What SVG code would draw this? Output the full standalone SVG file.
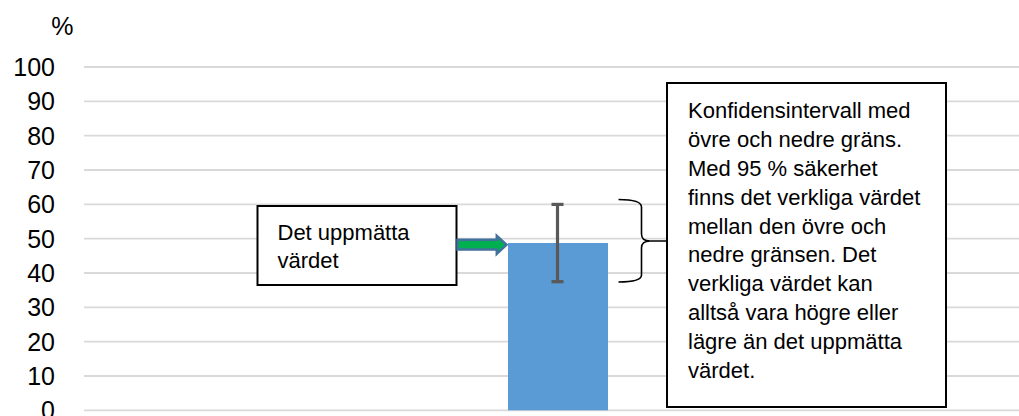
<svg xmlns="http://www.w3.org/2000/svg" width="1019" height="416" viewBox="0 0 1019 416">
<style>
.grid{stroke:#D9D9D9;stroke-width:1.8;fill:none}
.ax{font-family:"Liberation Sans",Arial,sans-serif;font-size:25px;fill:#000;text-anchor:end}
.txt{font-family:"Liberation Sans",Arial,sans-serif;font-size:22px;fill:#000}
.box{fill:#fff;stroke:#000;stroke-width:2}
</style>
<rect x="0" y="0" width="1019" height="416" fill="#fff"/>
<g id="gridlines">
<line class="grid" x1="84" y1="410.3" x2="1019" y2="410.3"/>
<line class="grid" x1="84" y1="376" x2="1019" y2="376"/>
<line class="grid" x1="84" y1="341.6" x2="1019" y2="341.6"/>
<line class="grid" x1="84" y1="307.3" x2="1019" y2="307.3"/>
<line class="grid" x1="84" y1="273" x2="1019" y2="273"/>
<line class="grid" x1="84" y1="238.6" x2="1019" y2="238.6"/>
<line class="grid" x1="84" y1="204.3" x2="1019" y2="204.3"/>
<line class="grid" x1="84" y1="170" x2="1019" y2="170"/>
<line class="grid" x1="84" y1="135.6" x2="1019" y2="135.6"/>
<line class="grid" x1="84" y1="101.3" x2="1019" y2="101.3"/>
<line class="grid" x1="84" y1="67" x2="1019" y2="67"/>
</g>
<g id="axis-labels">
<text x="73.5" y="34.5" class="ax" font-size="24.5">%</text>
<text x="55" y="76" class="ax">100</text>
<text x="55" y="110.3" class="ax">90</text>
<text x="55" y="144.6" class="ax">80</text>
<text x="55" y="179" class="ax">70</text>
<text x="55" y="213.3" class="ax">60</text>
<text x="55" y="247.6" class="ax">50</text>
<text x="55" y="282" class="ax">40</text>
<text x="55" y="316.3" class="ax">30</text>
<text x="55" y="350.6" class="ax">20</text>
<text x="55" y="385" class="ax">10</text>
<text x="55" y="419.3" class="ax">0</text>
</g>
<g id="bar">
<rect x="508" y="243" width="100" height="167.3" fill="#5B9BD5"/>
</g>
<g id="error-bar" stroke="#595959" stroke-width="3.2" fill="none">
<line x1="557.5" y1="204.4" x2="557.5" y2="281.7"/>
<line x1="551.5" y1="204.4" x2="563.5" y2="204.4"/>
<line x1="551.5" y1="281.7" x2="563.5" y2="281.7"/>
</g>
<g id="measured-box">
<rect class="box" x="257.5" y="206" width="199" height="79"/>
<text class="txt" x="277.5" y="240">Det uppmätta</text>
<text class="txt" x="277.5" y="268">värdet</text>
</g>
<g id="connectors">
<path d="M457.5,239.8 L496.8,239.8 L496.8,235.8 L506.5,244.8 L496.8,253.8 L496.8,249.6 L457.5,249.6 Z" fill="#00B050" stroke="#41719C" stroke-width="2.5" stroke-linejoin="miter"/>
<path d="M618.5,199.5 Q641.5,199.5 641.5,207 L641.5,234 Q641.5,241 650,241 L666,241 M650,241 Q641.5,241 641.5,248 L641.5,275 Q641.5,282 618.5,282" fill="none" stroke="#000" stroke-width="1.6"/>
</g>
<g id="interval-box">
<rect class="box" x="667" y="83" width="279" height="324"/>
<text class="txt" x="688" y="118.3">Konfidensintervall med</text>
<text class="txt" x="688" y="147.1">övre och nedre gräns.</text>
<text class="txt" x="688" y="175.9">Med 95 % säkerhet</text>
<text class="txt" x="688" y="204.7">finns det verkliga värdet</text>
<text class="txt" x="688" y="233.5">mellan den övre och</text>
<text class="txt" x="688" y="262.3">nedre gränsen. Det</text>
<text class="txt" x="688" y="291.1">verkliga värdet kan</text>
<text class="txt" x="688" y="319.9">alltså vara högre eller</text>
<text class="txt" x="688" y="348.7">lägre än det uppmätta</text>
<text class="txt" x="688" y="377.5">värdet.</text>
</g>
</svg>
